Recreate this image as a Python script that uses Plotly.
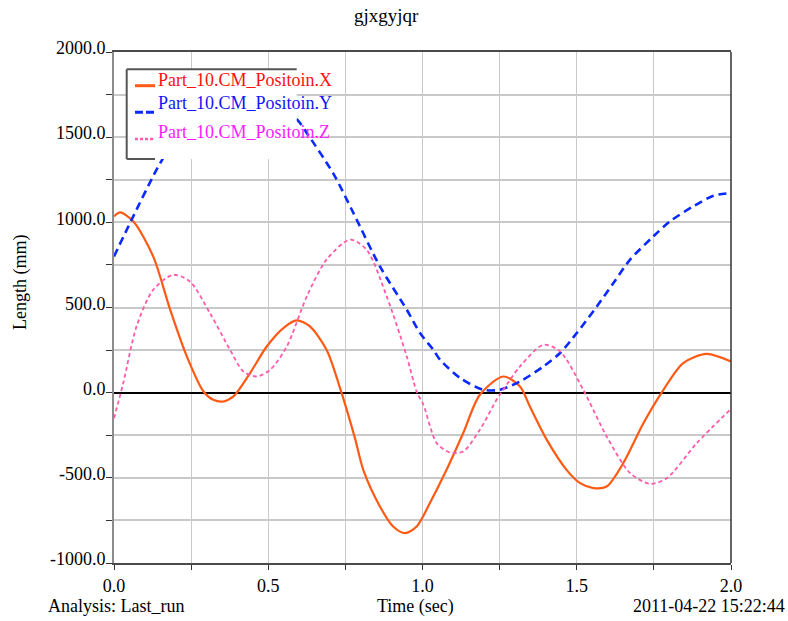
import plotly.graph_objects as go

# ---------------- text ----------------
title_text = "gjxgyjqr"
x_title = "Time (sec)"
y_title = "Length (mm)"
footer_left = "Analysis: Last_run"
footer_right = "2011-04-22 15:22:44"
series_names = ["Part_10.CM_Positoin.X", "Part_10.CM_Positoin.Y", "Part_10.CM_Positoin.Z"]

# ---------------- data ----------------
t_x = [0.0, 0.02, 0.063, 0.127, 0.182, 0.236, 0.29, 0.322, 0.354, 0.387, 0.441, 0.495,
       0.549, 0.592, 0.635, 0.689, 0.733, 0.781, 0.808, 0.862, 0.905, 0.943, 0.981,
       1.024, 1.078, 1.132, 1.186, 1.262, 1.316, 1.348, 1.403, 1.467, 1.511, 1.554,
       1.597, 1.651, 1.716, 1.781, 1.845, 1.921, 2.0]
x_vals = [1035, 1058, 1005, 800, 487, 213, 7, -42, -52, -22, 115, 271,
          379, 424, 389, 252, 25, -267, -453, -668, -786, -825, -786,
          -648, -453, -237, -12, 95, 36, -81, -277, -453, -531, -560,
          -551, -413, -179, 17, 174, 228, 183]

t_y = [0.0, 0.057, 0.138, 0.2, 0.25, 0.3, 0.35, 0.4, 0.45, 0.5, 0.55, 0.6, 0.625,
       0.711, 0.776, 0.862, 0.949, 0.992, 1.035, 1.057, 1.122, 1.197, 1.251, 1.316,
       1.392, 1.446, 1.5, 1.565, 1.619, 1.673, 1.748, 1.802, 1.878, 1.943, 2.0]
y_vals = [800, 1015, 1309, 1500, 1620, 1710, 1770, 1800, 1790, 1745, 1670, 1590, 1525,
          1286, 1055, 741, 487, 350, 252, 193, 86, 17, 17, 66,
          154, 233, 350, 506, 644, 781, 917, 1005, 1094, 1156, 1172]

t_z = [0.0, 0.03, 0.073, 0.127, 0.192, 0.246, 0.311, 0.376, 0.419, 0.462, 0.506, 0.56,
       0.625, 0.689, 0.765, 0.819, 0.884, 0.949, 0.981, 1.003, 1.046, 1.089, 1.132,
       1.186, 1.24, 1.262, 1.316, 1.392, 1.446, 1.521, 1.597, 1.673, 1.738, 1.792,
       1.889, 2.0]
z_vals = [-150, 56, 389, 604, 692, 653, 467, 252, 125, 95, 134, 271,
          565, 781, 898, 839, 565, 213, 7, -71, -296, -351, -345,
          -218, -42, 17, 154, 281, 242, 17, -257, -472, -535, -502,
          -296, -95]

x_tickvals = [0.0, 0.5, 1.0, 1.5, 2.0]
x_ticktext = ["0.0", "0.5", "1.0", "1.5", "2.0"]
x_minorvals = [0.25, 0.75, 1.25, 1.75]
y_tickvals = [-1000, -500, 0, 500, 1000, 1500, 2000]
y_ticktext = ["-1000.0", "-500.0", "0.0", "500.0", "1000.0", "1500.0", "2000.0"]
y_minorvals = [-750, -250, 250, 750, 1250, 1750]

# ---------------- styles ----------------
FONT = "Liberation Serif"
W, H = 788, 621
ML, MR, MT, MB = 114, 57, 52, 58
PW, PH = W - ML - MR, H - MT - MB

line_colors = ["#FF5A14", "#0A2AFF", "#FF5AAA"]
text_colors = ["#FF1010", "#1414FF", "#FF1AFF"]


def px_x(px):
    return (px - ML) / PW


def px_y(py):
    return (H - MB - py) / PH


fig = go.Figure()
fig.add_trace(go.Scatter(x=t_x, y=x_vals, mode="lines", name=series_names[0],
                         line=dict(color=line_colors[0], width=2.2, shape="spline", smoothing=0.8)))
fig.add_trace(go.Scatter(x=t_y, y=y_vals, mode="lines", name=series_names[1],
                         line=dict(color=line_colors[1], width=2.6, dash="8px,5px",
                                   shape="spline", smoothing=0.8)))
fig.add_trace(go.Scatter(x=t_z, y=z_vals, mode="lines", name=series_names[2],
                         line=dict(color=line_colors[2], width=1.8, dash="4px,3px",
                                   shape="spline", smoothing=0.8)))

grid_c = "#c9c9c9"
fig.update_layout(
    width=W, height=H,
    margin=dict(l=ML, r=MR, t=MT, b=MB, autoexpand=False),
    paper_bgcolor="white", plot_bgcolor="white",
    showlegend=False,
    font=dict(family=FONT, size=18, color="black"),
    xaxis=dict(range=[0, 2], tickmode="array", tickvals=x_tickvals, ticktext=x_ticktext,
               ticks="outside", ticklen=5, tickcolor="#333", tickwidth=1,
               showgrid=True, gridcolor=grid_c, gridwidth=1,
               minor=dict(tickmode="array", tickvals=x_minorvals, showgrid=True,
                          gridcolor=grid_c, gridwidth=1, ticks="outside", ticklen=5,
                          tickcolor="#333"),
               showline=True, mirror=True, linecolor="#4a4a4a", linewidth=2,
               zeroline=False, automargin=False,
               tickfont=dict(family=FONT, size=18, color="black")),
    yaxis=dict(range=[-1000, 2000], tickmode="array", tickvals=y_tickvals, ticktext=y_ticktext,
               ticks="outside", ticklen=6, tickcolor="#333", tickwidth=1,
               showgrid=True, gridcolor=grid_c, gridwidth=1.5,
               minor=dict(tickmode="array", tickvals=y_minorvals, showgrid=True,
                          gridcolor=grid_c, gridwidth=1.5, ticks="outside", ticklen=6,
                          tickcolor="#333"),
               showline=True, mirror=False, linecolor="#8c8c8c", linewidth=2,
               zeroline=True, zerolinecolor="black", zerolinewidth=1.5,
               ticklabelshift=-4, ticklabelstandoff=-3, automargin=False,
               tickfont=dict(family=FONT, size=18, color="black")),
)

shapes = [
    # right border
    dict(type="line", xref="paper", yref="paper", x0=1, x1=1, y0=0, y1=1,
         line=dict(color="#333", width=1.5), layer="above"),
    # legend background
    dict(type="rect", xref="paper", yref="paper", x0=px_x(126.7), x1=px_x(296.7),
         y0=px_y(159), y1=px_y(69.3), fillcolor="white", line=dict(width=0), layer="above"),
    # legend bracket border
    dict(type="line", xref="paper", yref="paper", x0=px_x(126.7), x1=px_x(296.7),
         y0=px_y(69.3), y1=px_y(69.3), line=dict(color="#555", width=2), layer="above"),
    dict(type="line", xref="paper", yref="paper", x0=px_x(126.7), x1=px_x(126.7),
         y0=px_y(69.3), y1=px_y(159), line=dict(color="#555", width=2), layer="above"),
    dict(type="line", xref="paper", yref="paper", x0=px_x(126.7), x1=px_x(155),
         y0=px_y(159), y1=px_y(159), line=dict(color="#555", width=2), layer="above"),
    # legend samples
    dict(type="line", xref="paper", yref="paper", x0=px_x(135), x1=px_x(155),
         y0=px_y(85.7), y1=px_y(85.7), line=dict(color=line_colors[0], width=3), layer="above"),
    dict(type="line", xref="paper", yref="paper", x0=px_x(135), x1=px_x(155),
         y0=px_y(112.3), y1=px_y(112.3),
         line=dict(color=line_colors[1], width=3, dash="8px,3px"), layer="above"),
    dict(type="line", xref="paper", yref="paper", x0=px_x(135), x1=px_x(155),
         y0=px_y(139), y1=px_y(139),
         line=dict(color=line_colors[2], width=2.5, dash="3px,2px"), layer="above"),
]
fig.update_layout(shapes=shapes)

ann = []
leg_y = [78.3, 101.7, 130.0]
for name, col, yy in zip(series_names, text_colors, leg_y):
    ann.append(dict(text=name, xref="paper", yref="paper", x=px_x(156), y=px_y(yy + 1.5),
                    xanchor="left", yanchor="middle", showarrow=False,
                    font=dict(family=FONT, size=18, color=col)))
ann.append(dict(text=title_text, xref="paper", yref="paper", x=px_x(386), y=px_y(15.5),
                xanchor="center", yanchor="middle", showarrow=False,
                font=dict(family=FONT, size=19, color="black")))
ann.append(dict(text=y_title, xref="paper", yref="paper", x=px_x(20), y=px_y(283),
                xanchor="center", yanchor="middle", textangle=-90, showarrow=False,
                font=dict(family=FONT, size=18, color="black")))
ann.append(dict(text=x_title, xref="paper", yref="paper", x=px_x(415), y=px_y(606),
                xanchor="center", yanchor="middle", showarrow=False,
                font=dict(family=FONT, size=18, color="black")))
ann.append(dict(text=footer_left, xref="paper", yref="paper", x=px_x(46), y=px_y(606),
                xanchor="left", yanchor="middle", showarrow=False,
                font=dict(family=FONT, size=18, color="black")))
ann.append(dict(text=footer_right, xref="paper", yref="paper", x=px_x(787), y=px_y(606),
                xanchor="right", yanchor="middle", showarrow=False,
                font=dict(family=FONT, size=18, color="black")))
fig.update_layout(annotations=ann)

fig.write_html("out.html",
               config={"displayModeBar": False},
               post_script="document.body.style.margin='0px';document.body.style.overflow='hidden';")
